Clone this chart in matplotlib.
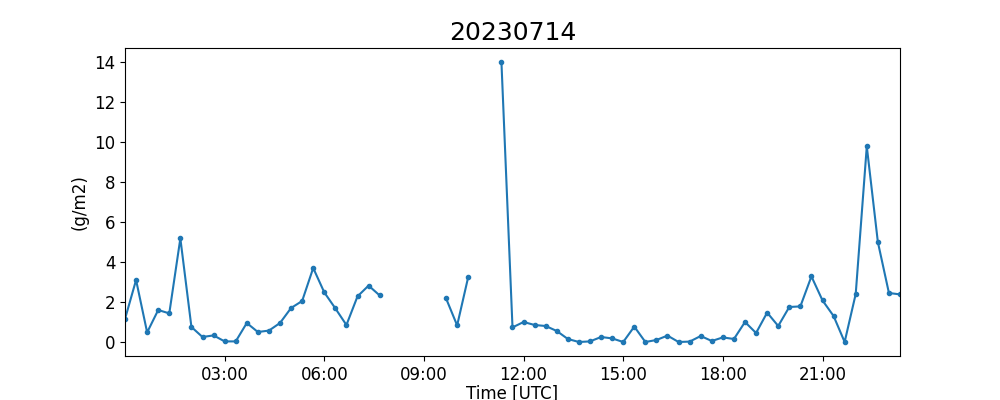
import numpy as np
import pandas as pd
import matplotlib
matplotlib.use('Agg')
import matplotlib.pyplot as plt
import matplotlib.dates as mdates

nan = np.nan

# readings every 20 minutes, 00:00 to 23:20 UTC
times = pd.date_range('2023-07-14 00:00', periods=71, freq='20min')
values = [
    1.15, 3.1, 0.48, 1.6, 1.43, 5.18, 0.75, 0.25, 0.33, 0.03,
    0.03, 0.95, 0.5, 0.57, 0.95, 1.7, 2.05, 3.7, 2.48, 1.68,
    0.85, 2.28, 2.82, 2.33, nan, nan, nan, nan, nan, 2.18,
    0.83, 3.25, nan, nan, 14.0, 0.73, 1.0, 0.85, 0.8, 0.55,
    0.15, 0.0, 0.03, 0.25, 0.18, 0.0, 0.77, 0.0, 0.1, 0.32,
    0.0, 0.02, 0.3, 0.05, 0.23, 0.15, 1.0, 0.45, 1.47, 0.8,
    1.75, 1.78, 3.28, 2.08, 1.3, 0.0, 2.4, 9.78, 5.0, 2.45,
    2.38,
]

fig, ax = plt.subplots(figsize=(10, 4), dpi=100)
ax.plot(times, values, marker='.', color='tab:blue')
ax.set_xlim(times[0], times[-1])

ax.xaxis.set_major_locator(mdates.HourLocator(byhour=range(3, 24, 3)))
ax.xaxis.set_major_formatter(mdates.DateFormatter('%H:%M'))
ax.tick_params(labelsize=12)

ax.set_title('20230714', fontsize=18)
ax.set_xlabel('Time [UTC]', fontsize=12, labelpad=1)
ax.set_ylabel('(g/m2)', fontsize=12)

fig.savefig('out.png')
